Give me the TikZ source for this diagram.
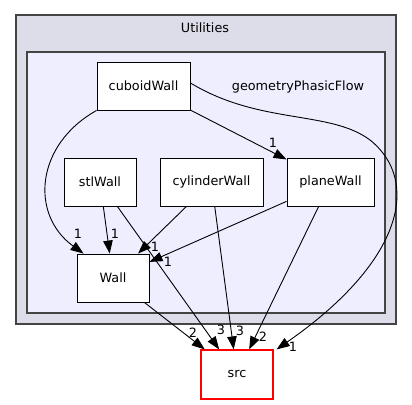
\documentclass[tikz,border=0pt]{standalone}
\usepackage{fontspec}
\setmainfont{DejaVu Sans}
\usetikzlibrary{arrows.meta, positioning, calc}
\definecolor{outerfill}{HTML}{DDDDEA}
\definecolor{innerfill}{HTML}{EEEEFF}
\definecolor{clusterline}{HTML}{444444}
\tikzstyle{dir} = [rectangle, draw=black, fill=white, line width=0.9pt, minimum height=48pt, text centered, inner sep=2pt]
\tikzstyle{arrow} = [line width=0.9pt, -{Triangle[length=13pt, width=9.5pt]}]
\tikzstyle{lbl} = [inner sep=0pt]

\begin{document}
\begin{tikzpicture}[x=1pt, y=-1pt]
\fontsize{12.8}{15}\selectfont
\useasboundingbox (0, 0) rectangle (412, 404);

  % clusters
  \draw[fill=outerfill, draw=clusterline, line width=1.8pt] (16, 15) rectangle (396, 324);
  \node (utilities) at (205, 28) {Utilities};
  \draw[fill=innerfill, draw=clusterline, line width=1.3pt] (27, 52) rectangle (385, 313);
  \node (geometry) at (298, 87) {geometryPhasicFlow};

  \node[dir, minimum width=93pt] (cuboidWall) at (143.5, 86) {cuboidWall};
  \node[dir, minimum width=72pt] (stlWall) at (100, 182) {stlWall};
  \node[dir, minimum width=103pt] (cylinderWall) at (211.5, 182) {cylinderWall};
  \node[dir, minimum width=87pt] (planeWall) at (330.5, 182) {planeWall};
  \node[dir, minimum width=72pt] (Wall) at (113, 278) {Wall};
  \node[dir, draw=red, line width=1.2pt, minimum width=72pt, minimum height=49pt] (src) at (237, 374.5) {src};

  % dependencies
  \draw[arrow] (cuboidWall.south west) .. controls (35, 145) and (30, 215) .. ($(Wall.north west)+(7, 0)$);
  \draw[arrow] (cuboidWall) -- (planeWall);
  \draw[arrow] ($(cuboidWall.east)+(0, -3)$) .. controls (260, 125) and (330, 110) .. (370, 140)
    .. controls (420, 180) and (405, 260) .. ($(src.north east)+(3, 0)$);
  \draw[arrow] (stlWall) -- (Wall);
  \draw[arrow] (stlWall) -- (src);
  \draw[arrow] (cylinderWall) -- (Wall);
  \draw[arrow] (cylinderWall) -- (src);
  \draw[arrow] (planeWall) -- (Wall);
  \draw[arrow] (planeWall) -- (src);
  \draw[arrow] (Wall) -- (src);

  \node[lbl] (l1) at (78, 234) {1};
  \node[lbl] (l2) at (273, 143) {1};
  \node[lbl] (l3) at (293, 347) {1};
  \node[lbl] (l4) at (115, 234) {1};
  \node[lbl] (l5) at (221, 330) {3};
  \node[lbl] (l6) at (155, 247) {1};
  \node[lbl] (l7) at (240, 331) {3};
  \node[lbl] (l8) at (168, 262) {1};
  \node[lbl] (l9) at (263, 337) {2};
  \node[lbl] (l10) at (193, 333) {2};

\end{tikzpicture}
\end{document}
